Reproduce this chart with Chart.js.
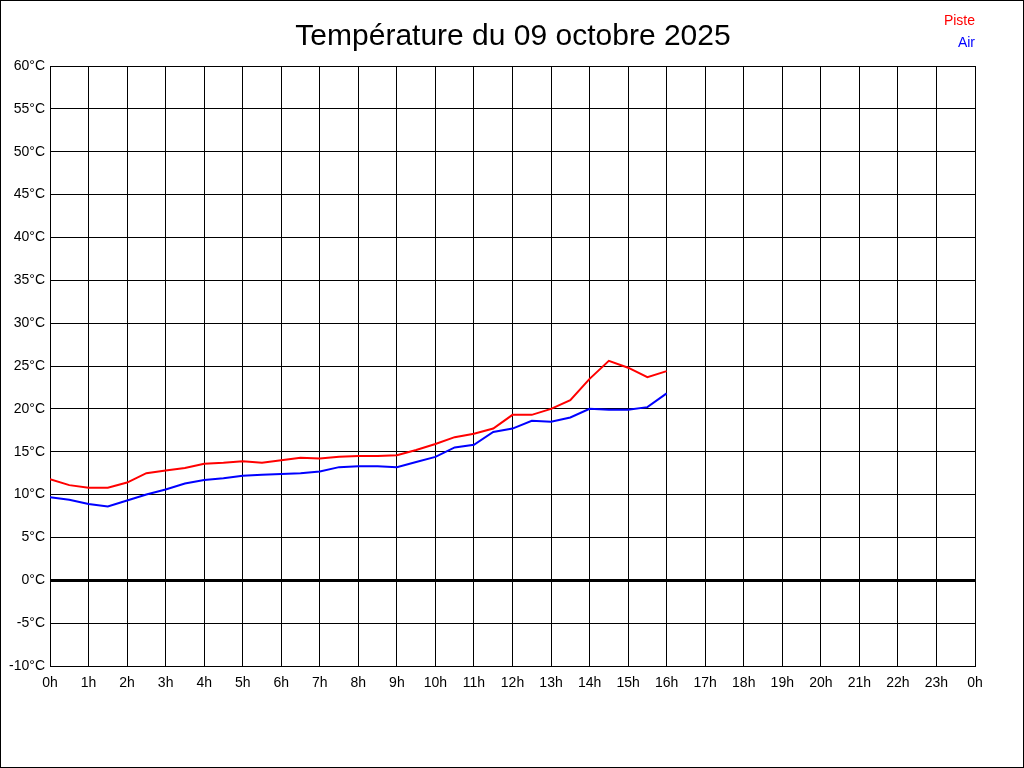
<!DOCTYPE html>
<html>
<head>
<meta charset="utf-8">
<title>Température du 09 octobre 2025</title>
<script src="https://cdn.jsdelivr.net/npm/chart.js@4/dist/chart.umd.min.js"></script>
<style>
  html, body { margin: 0; padding: 0; background: #fff; }
  canvas { display: block; }
</style>
</head>
<body>
<canvas id="temp-graph" width="1024" height="768"></canvas>
<script>
const titleText = 'Température du 09 octobre 2025';
// relevés toutes les 30 min
const hours = [0, 0.5, 1, 1.5, 2, 2.5, 3, 3.5, 4, 4.5, 5, 5.5, 6, 6.5, 7, 7.5, 8,
  8.5, 9, 9.5, 10, 10.5, 11, 11.5, 12, 12.5, 13, 13.5, 14, 14.5, 15, 15.5, 16];
const piste = [11.8, 11.1, 10.8, 10.8, 11.4, 12.5, 12.8, 13.1, 13.6, 13.7, 13.9, 13.7, 14.0, 14.3, 14.2, 14.4, 14.5,
  14.5, 14.6, 15.2, 15.9, 16.7, 17.1, 17.7, 19.3, 19.3, 20.0, 21.0, 23.5, 25.6, 24.8, 23.7, 24.4];
const air = [9.7, 9.4, 8.9, 8.6, 9.3, 10.0, 10.6, 11.3, 11.7, 11.9, 12.2, 12.3, 12.4, 12.5, 12.7, 13.2, 13.3,
  13.3, 13.2, 13.8, 14.4, 15.5, 15.8, 17.3, 17.7, 18.6, 18.5, 19.0, 20.0, 19.9, 19.9, 20.2, 21.8];
const seriesLabels = ['Piste', 'Air'];
const seriesColors = ['#ff0000', '#0000ff'];

const labelFont = { family: 'Liberation Sans, Arial, sans-serif', size: 14 };

// titre, légende à droite et cadre
const decorPlugin = {
  id: 'decor',
  afterDraw(chart) {
    const ctx = chart.ctx;
    ctx.save();
    ctx.fillStyle = '#000';
    ctx.font = '30px Liberation Sans, Arial, sans-serif';
    ctx.textAlign = 'center';
    ctx.textBaseline = 'middle';
    ctx.fillText(titleText, 513, 37);

    ctx.font = '14px Liberation Sans, Arial, sans-serif';
    ctx.textAlign = 'right';
    chart.data.datasets.forEach((ds, i) => {
      ctx.fillStyle = ds.borderColor;
      ctx.fillText(ds.label, 975, 21 + i * 22);
    });

    ctx.strokeStyle = '#000';
    ctx.lineWidth = 1;
    ctx.strokeRect(0.5, 0.5, chart.width - 1, chart.height - 1);
    ctx.restore();
  }
};

const datasets = [piste, air].map((values, i) => ({
  label: seriesLabels[i],
  data: hours.map((h, j) => ({ x: h, y: values[j] })),
  borderColor: seriesColors[i],
  backgroundColor: seriesColors[i],
  borderWidth: 2,
  pointRadius: 0,
  tension: 0,
  fill: false
}));

new Chart(document.getElementById('temp-graph').getContext('2d'), {
  type: 'line',
  data: { datasets },
  options: {
    responsive: false,
    animation: false,
    devicePixelRatio: 1,
    layout: { padding: { top: 66, right: 49, left: 0, bottom: 0 } },
    plugins: {
      legend: { display: false },
      title: { display: false },
      tooltip: { enabled: false }
    },
    scales: {
      x: {
        type: 'linear',
        min: 0,
        max: 24,
        afterFit: scale => { scale.height = 102; },
        ticks: {
          stepSize: 1,
          autoSkip: false,
          maxRotation: 0,
          padding: 9,
          color: '#000',
          font: labelFont,
          callback: v => (v % 24) + 'h'
        },
        grid: { color: '#000', lineWidth: 1, drawTicks: false },
        border: { color: '#000', width: 1 }
      },
      y: {
        min: -10,
        max: 60,
        afterFit: scale => { scale.width = 50; },
        ticks: {
          stepSize: 5,
          padding: 5,
          color: '#000',
          font: labelFont,
          callback: v => v + '°C'
        },
        grid: {
          color: '#000',
          lineWidth: ctx => (ctx.tick && ctx.tick.value === 0 ? 3 : 1),
          drawTicks: false
        },
        border: { color: '#000', width: 1 }
      }
    }
  },
  plugins: [decorPlugin]
});
</script>
</body>
</html>
